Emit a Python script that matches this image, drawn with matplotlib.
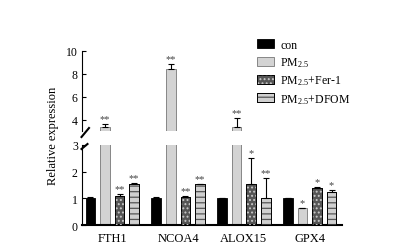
import matplotlib.pyplot as plt
import numpy as np
from matplotlib.patches import Patch
from matplotlib.lines import Line2D
from matplotlib.legend_handler import HandlerTuple

plt.rcParams['font.family'] = ['Liberation Serif', 'DejaVu Serif']
plt.rcParams['mathtext.fontset'] = 'stix'
plt.rcParams['hatch.linewidth'] = 0.9

genes = ['FTH1', 'NCOA4', 'ALOX15', 'GPX4']
groups = ['con', 'PM$_{\\mathregular{2.5}}$', 'PM$_{\\mathregular{2.5}}$+Fer-1', 'PM$_{\\mathregular{2.5}}$+DFOM']

con = [1.0, 1.0, 1.0, 1.0]
con_err = [0.06, 0.05, 0.0, 0.03]
pm = [3.36, 8.44, 3.35, 0.64]
pm_err = [0.25, 0.45, 0.8, 0.0]
fer = [1.08, 1.04, 1.55, 1.39]
fer_err = [0.08, 0.06, 0.95, 0.03]
dfom = [1.53, 1.53, 1.0, 1.24]
dfom_err = [0.06, 0.01, 0.76, 0.07]

sig_con = ['', '', '', '']
sig_pm = ['**', '**', '**', '*']
sig_fer = ['**', '**', '*', '*']
sig_dfom = ['**', '**', '**', '*']

# values, errors, stars, face, hatch, hatch colour
series = [
    (con, con_err, sig_con, '#000000', None, None),
    (pm, pm_err, sig_pm, '#d3d3d3', None, None),
    (fer, fer_err, sig_fer, '#555555', '....', '#c8c8c8'),
    (dfom, dfom_err, sig_dfom, '#d0d0d0', '---', '#555555'),
]

fig = plt.figure(figsize=(4.03, 2.51), dpi=100)
ax_top = fig.add_axes([0.2035, 0.474, 0.645, 0.319])
ax_bot = fig.add_axes([0.2035, 0.0996, 0.645, 0.319])

x = np.arange(len(genes))
step = 0.222
width = 0.145

for ax in (ax_top, ax_bot):
    for i, (vals, errs, sigs, fc, hatch, hc) in enumerate(series):
        pos = x + (i - 1.5) * step
        ec = '#777777' if i == 1 else 'black'
        ax.bar(pos, vals, width, color=fc, edgecolor=ec, linewidth=0.6, zorder=2)
        if hatch:
            ax.bar(pos, vals, width, color='none', edgecolor=hc, hatch=hatch, linewidth=0, zorder=3)
            ax.bar(pos, vals, width, color='none', edgecolor='black', linewidth=0.6, zorder=4)
        ax.errorbar(pos, vals, yerr=[np.zeros(len(vals)), errs], fmt='none',
                    ecolor='black', elinewidth=0.8, capsize=2.5, capthick=0.8, zorder=5)
        for p, v, e, s in zip(pos, vals, errs, sigs):
            if not s:
                continue
            top = v + e
            if ax is ax_top and top <= 3:
                continue
            if ax is ax_bot and top > 3:
                continue
            ax.annotate(s, (p, top), xytext=(0, 0.5), textcoords='offset points',
                        ha='center', va='bottom', fontsize=7.5, color='#444444')

ax_top.set_ylim(3, 10)
ax_bot.set_ylim(0, 3)
for ax in (ax_top, ax_bot):
    ax.set_xlim(-0.46, 3.49)
    ax.spines['top'].set_visible(False)
    ax.spines['right'].set_visible(False)
    ax.tick_params(axis='y', direction='in', length=3, width=0.8, labelsize=8.5, pad=3)

ax_top.set_yticks([4, 6, 8, 10])
ax_top.spines['bottom'].set_visible(False)
ax_top.set_xticks([])
ax_bot.set_yticks([0, 1, 2, 3])
ax_bot.set_xticks(x)
ax_bot.set_xticklabels(genes, fontsize=9)
ax_bot.tick_params(axis='x', length=0, pad=5)
ax_bot.spines['bottom'].set_linewidth(1.5)

fig.text(0.132, 0.46, 'Relative expression', rotation=90, ha='center', va='center', fontsize=9)

# break marks on the y axis
W, H = 403, 251
for (x0, y0, x1, y1) in [(81.5, 138, 89, 129), (81.5, 150, 87.5, 145)]:
    fig.add_artist(Line2D([x0 / W, x1 / W], [1 - y0 / H, 1 - y1 / H],
                          color='black', linewidth=1.5))

handles = []
for i, (vals, errs, sigs, fc, hatch, hc) in enumerate(series):
    ec = '#777777' if i == 1 else 'black'
    base = Patch(facecolor=fc, edgecolor=ec, linewidth=0.6)
    if hatch:
        over = Patch(facecolor='none', edgecolor=hc, hatch=hatch, linewidth=0)
        edge = Patch(facecolor='none', edgecolor='black', linewidth=0.6)
        handles.append((base, over, edge))
    else:
        handles.append(base)
leg = fig.legend(handles, groups, loc='upper left', bbox_to_anchor=(0.625, 0.86),
                 frameon=False, fontsize=8.5, handlelength=1.5, handleheight=0.8,
                 labelspacing=0.4, handletextpad=0.5, borderaxespad=0,
                 handler_map={tuple: HandlerTuple(ndivide=1, pad=0)})

fig.savefig('out.png', dpi=100)
